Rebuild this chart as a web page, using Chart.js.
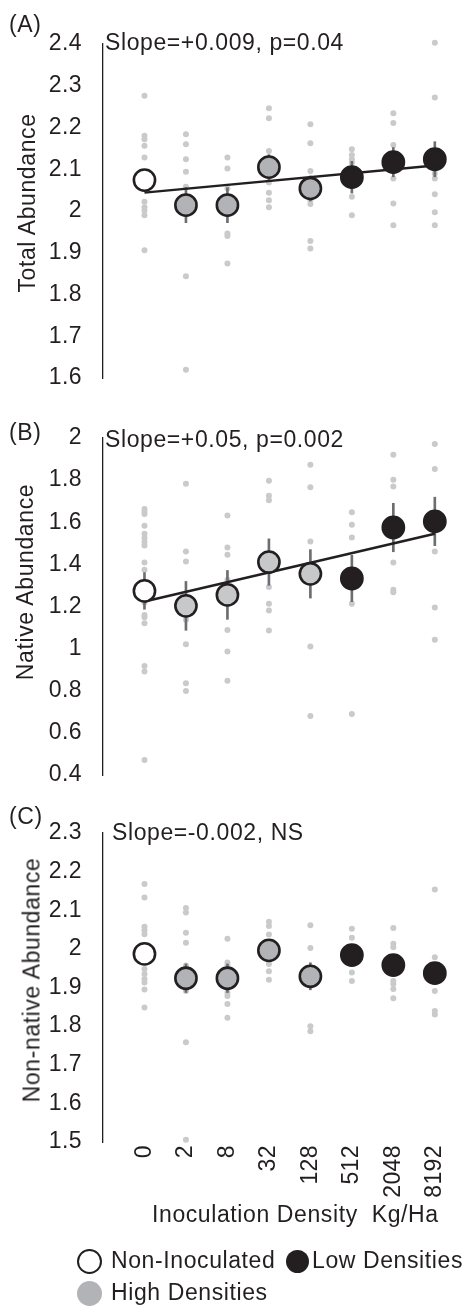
<!DOCTYPE html>
<html>
<head>
<meta charset="utf-8">
<script src="https://cdn.jsdelivr.net/npm/chart.js@4.4.1/dist/chart.umd.min.js"></script>
<style>
  body { margin: 0; background: #fff; }
  #page { position: relative; width: 468px; height: 1306px; overflow: hidden;
          font-family: 'Liberation Sans', Arial, sans-serif; color: #231f20; }
  canvas { position: absolute; left: 0; }
  .t { position: absolute; font-size: 23px; line-height: 23px; white-space: pre; letter-spacing: 0.6px; }
  .ytitle { transform: translate(-50%, -50%) rotate(-90deg); }
  .key { position: absolute; border-radius: 50%; box-sizing: border-box; }
</style>
</head>
<body>
<div id="page">
  <canvas id="chartA" width="468" height="400" style="top:0px"></canvas>
  <canvas id="chartB" width="468" height="390" style="top:400px"></canvas>
  <canvas id="chartC" width="468" height="420" style="top:790px"></canvas>

  <div class="t" style="left:9px; top:13px">(A)</div>
  <div class="t" style="left:9px; top:421px">(B)</div>
  <div class="t" style="left:9px; top:805px">(C)</div>

  <div class="t" style="left:105px; top:31px">Slope=+0.009, p=0.04</div>
  <div class="t" style="left:105px; top:428px">Slope=+0.05, p=0.002</div>
  <div class="t" style="left:112px; top:821px">Slope=-0.002, NS</div>

  <div class="t ytitle" style="left:27px; top:203px">Total Abundance</div>
  <div class="t ytitle" style="left:25px; top:582px">Native Abundance</div>
  <div class="t ytitle" style="left:32px; top:980px">Non-native Abundance</div>

  <div class="t" style="left:152px; top:1203px">Inoculation Density  Kg/Ha</div>

  <!-- legend -->
  <div class="key" style="left:77px; top:1249px; width:25px; height:25px; border:2.5px solid #231f20; background:#fff"></div>
  <div class="t" style="left:111px; top:1249px">Non-Inoculated</div>
  <div class="key" style="left:286px; top:1250px; width:23px; height:23px; background:#231f20"></div>
  <div class="t" style="left:312px; top:1249px">Low Densities</div>
  <div class="key" style="left:77px; top:1281px; width:25px; height:25px; background:#b1b3b6"></div>
  <div class="t" style="left:111px; top:1281px">High Densities</div>
</div>

<script>
// inoculation doses (kg/ha), one column per dose
const doses = ['0', '2', '8', '32', '128', '512', '2048', '8192'];
// 0 = non-inoculated, 1 = high densities, 2 = low densities
const groups = [0, 1, 1, 1, 1, 2, 2, 2];

// (A) total abundance
const meanA = [2.074, 2.014, 2.014, 2.105, 2.054, 2.081, 2.117, 2.124];
const seA = [0.025, 0.042, 0.042, 0.03, 0.03, 0.038, 0.035, 0.042];
const fitA = [2.044, 2.109];
const rawA = [
  [2.276, 2.180, 2.172, 2.156, 2.128, 2.09, 2.022, 2.009, 2.001, 1.990, 1.906],
  [2.184, 2.160, 2.124, 2.094, 2.058, 2.03, 2.00, 1.844, 1.620],
  [2.128, 2.102, 2.054, 2.03, 2.00, 1.946, 1.940, 1.874],
  [2.246, 2.222, 2.144, 2.122, 2.10, 2.068, 2.044, 2.026, 2.009],
  [2.208, 2.162, 2.096, 2.070, 2.05, 2.026, 2.017, 1.928, 1.910],
  [2.148, 2.134, 2.124, 2.116, 2.06, 2.034, 1.990],
  [2.234, 2.211, 2.158, 2.134, 2.10, 2.078, 2.018, 1.966],
  [2.403, 2.272, 2.13, 2.090, 2.078, 2.040, 1.997, 1.966]
];

// (B) native abundance
const meanB = [1.274, 1.203, 1.255, 1.411, 1.355, 1.333, 1.575, 1.604];
const seB = [0.087, 0.116, 0.116, 0.11, 0.115, 0.11, 0.115, 0.115];
const fitB = [1.224, 1.545];
const rawB = [
  [1.663, 1.65, 1.639, 1.583, 1.545, 1.525, 1.506, 1.490, 1.409, 1.374, 1.219, 1.160, 1.149, 1.121, 0.918, 0.891, 0.471],
  [1.783, 1.461, 1.414, 1.137, 1.021, 0.836, 0.799],
  [1.632, 1.480, 1.446, 1.327, 1.089, 0.986, 0.847],
  [1.797, 1.726, 1.704, 1.292, 1.213, 1.181, 1.086],
  [1.873, 1.766, 1.509, 1.010, 0.680],
  [1.648, 1.588, 1.528, 1.213, 0.690],
  [1.921, 1.802, 1.770, 1.409, 1.279, 1.268],
  [1.971, 1.853, 1.461, 1.195, 1.042]
];

// (C) non-native abundance
const meanC = [1.987, 1.924, 1.924, 1.996, 1.929, 1.984, 1.958, 1.937];
const seC = [0.02, 0.037, 0.037, 0.02, 0.035, 0.02, 0.025, 0.02];
const rawC = [
  [2.168, 2.133, 2.057, 2.048, 2.038, 1.948, 1.935, 1.922, 1.913, 1.895, 1.848],
  [2.106, 2.094, 2.042, 2.016, 1.957, 1.891, 1.758, 1.506],
  [2.026, 1.965, 1.957, 1.887, 1.878, 1.857, 1.822],
  [2.070, 2.059, 2.037, 1.961, 1.942, 1.920],
  [2.061, 2.002, 1.93, 1.800, 1.787],
  [2.052, 2.029, 1.963, 1.939, 1.917],
  [2.054, 2.013, 2.004, 1.917, 1.909, 1.896, 1.872],
  [2.154, 1.978, 1.917, 1.891, 1.839, 1.830]
];

const ink = '#231f20';
const font = { family: "'Liberation Sans', Arial, sans-serif", size: 23 };

const spacing = {
  id: 'spacing',
  beforeDraw(chart) { chart.ctx.letterSpacing = '0.4px'; }
};

function makePanel(id, p) {
  const fills = groups.map(g => g === 0 ? '#ffffff' : g === 1 ? p.gray : ink);
  const datasets = [
    {
      type: 'scatter', order: 4, clip: false,
      data: p.raw.flatMap((vals, i) => vals.map(v => ({ x: i, y: v }))),
      pointRadius: 3, pointBackgroundColor: '#c9cacc', pointBorderWidth: 0
    },
    {
      type: 'bar', order: 3,
      data: p.mean.map((m, i) => ({ x: i, y: [m - p.se[i], m + p.se[i]] })),
      backgroundColor: '#6d6e71', barThickness: 2, borderWidth: 0
    },
    {
      type: 'scatter', order: 1, clip: false,
      data: p.mean.map((m, i) => ({ x: i, y: m })),
      pointRadius: 10.6, pointBackgroundColor: fills,
      pointBorderColor: ink, pointBorderWidth: 2.6
    }
  ];
  if (p.fit) {
    datasets.push({
      type: 'line', order: 2,
      data: [{ x: 0, y: p.fit[0] }, { x: doses.length - 1, y: p.fit[1] }],
      borderColor: ink, borderWidth: 2.5, pointRadius: 0, fill: false
    });
  }

  new Chart(document.getElementById(id), {
    type: 'scatter',
    data: { datasets },
    plugins: [spacing],
    options: {
      responsive: false,
      animation: false,
      events: [],
      layout: { autoPadding: false, padding: { top: p.padTop, bottom: p.padBottom, left: 0, right: 0 } },
      plugins: { legend: { display: false }, tooltip: { enabled: false } },
      scales: {
        x: {
          type: 'linear', min: -1, max: 7.8, offset: false,
          display: p.showX,
          grid: { display: false, drawTicks: false },
          border: { display: false },
          afterBuildTicks: axis => { axis.ticks = doses.map((d, i) => ({ value: i })); },
          afterFit: axis => { axis.height = p.showX ? 68 : 0; axis.paddingLeft = 0; axis.paddingRight = 0; },
          ticks: {
            autoSkip: false, minRotation: 90, maxRotation: 90, padding: 3,
            color: ink, font,
            callback: v => doses[v]
          }
        },
        y: {
          type: 'linear', min: p.min, max: p.max, beginAtZero: false,
          grid: { display: false, drawTicks: false },
          border: { display: true, color: ink, width: 1.3 },
          afterFit: axis => { axis.width = 103; axis.paddingTop = 0; axis.paddingBottom = 0; },
          ticks: {
            stepSize: p.step, padding: 21, color: ink, font,
            callback: v => String(Math.round(v * 10) / 10)
          }
        }
      }
    }
  });
}

makePanel('chartA', { raw: rawA, mean: meanA, se: seA, fit: fitA, gray: '#b1b3b6',
  min: 1.6, max: 2.4, step: 0.1, padTop: 44, padBottom: 22, showX: false });
makePanel('chartB', { raw: rawB, mean: meanB, se: seB, fit: fitB, gray: '#c7c8ca',
  min: 0.4, max: 2, step: 0.2, padTop: 38, padBottom: 15, showX: false });
makePanel('chartC', { raw: rawC, mean: meanC, se: seC, fit: null, gray: '#b1b3b6',
  min: 1.5, max: 2.3, step: 0.1, padTop: 43, padBottom: 0, showX: true });
</script>
</body>
</html>
